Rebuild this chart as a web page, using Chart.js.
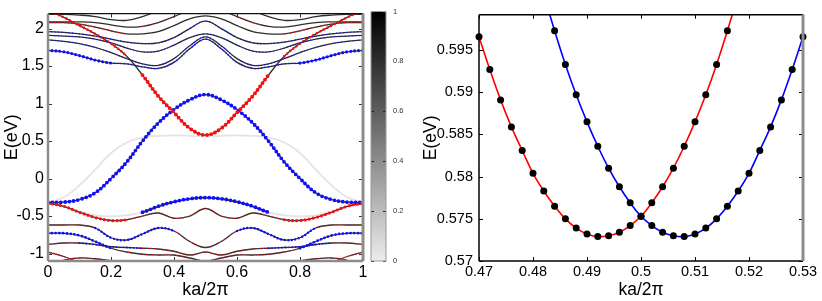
<!DOCTYPE html>
<html><head><meta charset="utf-8">
<script src="https://cdn.jsdelivr.net/npm/chart.js@4.4.1/dist/chart.umd.min.js"></script>
<style>
html,body{margin:0;padding:0;background:#fff;}
#wrap{position:relative;width:822px;height:301px;overflow:hidden;background:#fff;}
canvas{position:absolute;top:0;}
</style></head><body>
<div id="wrap">
<canvas id="bands" style="left:0px" width="370" height="301"></canvas>
<canvas id="cbar" style="left:364px" width="56" height="301"></canvas>
<canvas id="zoom" style="left:420px" width="402" height="301"></canvas>
</div>
<script>
// ---------- left panel: band structure (E vs ka/2pi) ----------
const kValues = [0,0.05,0.1,0.15,0.2,0.25,0.3,0.35,0.4,0.45,0.5,0.55,0.6,0.65,0.7,0.75,0.8,0.85,0.9,0.95,1];
const bandMainBlue = [-0.32,-0.315,-0.28,-0.19,0.0,0.22,0.50,0.74,0.92,1.05,1.12,1.05,0.92,0.74,0.50,0.22,0.0,-0.19,-0.28,-0.315,-0.32];
const bandMainRed  = [2.24,2.15,2.04,1.93,1.80,1.63,1.38,1.10,0.88,0.67,0.58,0.67,0.88,1.10,1.38,1.63,1.80,1.93,2.04,2.15,2.24];
const bandGrayUp   = [-0.32,-0.25,-0.09,0.12,0.34,0.48,0.55,0.57,0.575,0.57,0.56,0.57,0.575,0.57,0.55,0.48,0.34,0.12,-0.09,-0.25,-0.32];
const bandBump     = [-0.33,-0.37,-0.44,-0.49,-0.505,-0.49,-0.45,-0.37,-0.31,-0.27,-0.255,-0.27,-0.31,-0.37,-0.45,-0.49,-0.505,-0.49,-0.44,-0.37,-0.33];
const bandD = [-0.33,-0.37,-0.45,-0.52,-0.56,-0.55,-0.50,-0.46,-0.53,-0.50,-0.40,-0.50,-0.53,-0.46,-0.50,-0.55,-0.56,-0.52,-0.45,-0.37,-0.33];
const bandE = [-0.62,-0.62,-0.62,-0.66,-0.79,-0.82,-0.74,-0.66,-0.70,-0.84,-0.92,-0.84,-0.70,-0.66,-0.74,-0.82,-0.79,-0.66,-0.62,-0.62,-0.62];
const bandF = [-0.73,-0.73,-0.76,-0.84,-0.93,-0.98,-1.01,-1.02,-1.02,-1.06,-1.10,-1.06,-1.02,-1.02,-1.01,-0.98,-0.93,-0.84,-0.76,-0.73,-0.73];
const bandG = [-0.88,-0.86,-0.86,-0.88,-0.91,-0.92,-0.93,-0.94,-0.97,-1.02,-0.98,-1.02,-0.97,-0.94,-0.93,-0.92,-0.91,-0.88,-0.86,-0.86,-0.88];
const bandH = [-0.98,-1.04,-1.12,-1.20,-1.25,-1.30,-1.30,-1.30,-1.30,-1.30,-1.30,-1.30,-1.30,-1.30,-1.30,-1.30,-1.25,-1.20,-1.12,-1.04,-0.98];
const bandI = [-1.20,-1.09,-1.06,-1.07,-1.10,-1.16,-1.22,-1.25,-1.25,-1.25,-1.25,-1.25,-1.25,-1.25,-1.22,-1.16,-1.10,-1.07,-1.06,-1.09,-1.20];
const bandTopA = [1.71,1.69,1.64,1.58,1.54,1.53,1.49,1.47,1.55,1.73,1.86,1.73,1.55,1.47,1.49,1.53,1.54,1.58,1.64,1.69,1.71];
const bandTopB = [1.85,1.83,1.80,1.75,1.68,1.60,1.53,1.51,1.60,1.77,1.89,1.77,1.60,1.51,1.53,1.60,1.68,1.75,1.80,1.83,1.85];
const bandTopC = [1.91,1.90,1.89,1.86,1.81,1.74,1.69,1.70,1.78,1.88,1.93,1.88,1.78,1.70,1.69,1.74,1.81,1.86,1.89,1.90,1.91];
const bandTopD = [1.96,1.95,1.93,1.90,1.86,1.82,1.80,1.81,1.88,2.00,2.10,2.00,1.88,1.81,1.80,1.82,1.86,1.90,1.93,1.95,1.96];
const bandTopE = [2.08,2.08,2.06,2.02,1.97,1.93,1.93,1.96,2.04,2.13,2.17,2.13,2.04,1.96,1.93,1.93,1.97,2.02,2.06,2.08,2.08];
const bandTopF = [2.09,2.09,2.09,2.08,2.05,2.02,2.03,2.08,2.16,2.24,2.28,2.24,2.16,2.08,2.03,2.02,2.05,2.08,2.09,2.09,2.09];
const bandTopG = [2.19,2.19,2.18,2.16,2.12,2.11,2.16,2.24,2.32,2.38,2.40,2.38,2.32,2.24,2.16,2.11,2.12,2.16,2.18,2.19,2.19];
const leftXTicks = [0,0.2,0.4,0.6,0.8,1];
const leftXTickLabels = ['0','0.2','0.4','0.6','0.8','1'];
const leftYTicks = [-1,-0.5,0,0.5,1,1.5,2];
const leftYTickLabels = ['-1','-0.5','0','0.5','1','1.5','2'];

// ---------- colour bar ----------
const cbarTicks = [0,0.2,0.4,0.6,0.8,1];
const cbarTickLabels = ['0','0.2','0.4','0.6','0.8','1'];

// ---------- right panel: zoom near ka/2pi = 0.5 ----------
const redK = [0.470,0.472,0.474,0.476,0.478,0.480,0.482,0.484,0.486,0.488,0.490,0.492,0.494,0.496,0.498,0.500,0.502,0.504,0.506,0.508,0.510,0.512,0.514,0.516,0.518];
const redE = [0.5966,0.5927,0.5891,0.5859,0.5831,0.5804,0.5783,0.5765,0.5750,0.5739,0.5732,0.5729,0.5730,0.5734,0.5742,0.5753,0.5769,0.5788,0.5810,0.5836,0.5865,0.5897,0.5933,0.5973,0.6016];
const blueK = [0.482,0.484,0.486,0.488,0.490,0.492,0.494,0.496,0.498,0.500,0.502,0.504,0.506,0.508,0.510,0.512,0.514,0.516,0.518,0.520,0.522,0.524,0.526,0.528,0.530];
const blueE = [0.6016,0.5973,0.5933,0.5897,0.5865,0.5836,0.5810,0.5788,0.5769,0.5753,0.5742,0.5734,0.5730,0.5729,0.5732,0.5739,0.5750,0.5765,0.5783,0.5804,0.5831,0.5859,0.5891,0.5927,0.5966];
const rightXTicks = [0.47,0.48,0.49,0.50,0.51,0.52,0.53];
const rightXTickLabels = ['0.47','0.48','0.49','0.5','0.51','0.52','0.53'];
const rightYTicks = [0.57,0.575,0.58,0.585,0.59,0.595];
const rightYTickLabels = ['0.57','0.575','0.58','0.585','0.59','0.595'];

Chart.defaults.font.family = "'Liberation Sans', Arial, Helvetica, sans-serif";
Chart.defaults.color = '#000';

const LIGHT = '#e4e4e4', DARK = '#2e2e2e', BLUE = '#1010ff', RED = '#ff0d0d', NONE = 'rgba(0,0,0,0)';
const ALL = [[0,1]];
function inR(x, ranges){ return ranges.some(r => x >= r[0]-1e-9 && x <= r[1]+1e-9); }
function segIn(ctx, ranges){ return inR(ctx.p0.parsed.x, ranges) && inR(ctx.p1.parsed.x, ranges); }
function pts(xs, ys){ return xs.map((x,i) => ({x:x, y:ys[i]})); }

const bandSpecs = [
  {ys: bandGrayUp, line: LIGHT, dots: []},
  {ys: bandBump, line: LIGHT, dark: [[0.3,0.7]], dots: [{c:BLUE,w:3.8,g:4.3,r:[[0.3,0.7]]}]},
  {ys: bandD, line: DARK, dots: [{c:RED,w:3.2,g:4.2,r:[[0,0.27],[0.73,1]]},{c:RED,w:1.3,g:3,r:[[0.25,0.75]]}]},
  {ys: bandE, line: DARK, dots: [{c:BLUE,w:2.4,g:3.6,r:[[0.15,0.4],[0.6,0.85]]},{c:RED,w:1.2,g:3,r:[[0,0.15],[0.4,0.6],[0.85,1]]}]},
  {ys: bandF, line: DARK, dots: [{c:BLUE,w:2.8,g:3.8,r:[[0,0.2],[0.8,1]]},{c:RED,w:1.2,g:3,r:[[0.2,0.8]]}]},
  {ys: bandG, line: DARK, dots: [{c:BLUE,w:1.8,g:3.4,r:[[0.1,0.3],[0.7,0.9]]},{c:RED,w:1.2,g:3,r:[[0,0.1],[0.3,0.7],[0.9,1]]}]},
  {ys: bandH, line: DARK, dots: [{c:RED,w:1.6,g:3,r:ALL}]},
  {ys: bandI, line: DARK, dots: [{c:RED,w:1.2,g:3,r:ALL}]},
  {ys: bandTopG, line: DARK, dots: []},
  {ys: bandTopF, line: DARK, dots: [{c:RED,w:1.1,g:3.5,r:[[0.3,0.7]]}]},
  {ys: bandTopE, line: DARK, dots: [{c:RED,w:1.6,g:3.4,r:[[0,0.25],[0.75,1]]}]},
  {ys: bandTopD, line: DARK, dots: [{c:BLUE,w:1.4,g:3.5,r:ALL}]},
  {ys: bandTopC, line: DARK, dots: [{c:BLUE,w:1.2,g:3.5,r:ALL}]},
  {ys: bandTopB, line: DARK, dots: [{c:BLUE,w:1.2,g:3.5,r:ALL}]},
  {ys: bandTopA, line: DARK, dots: [{c:BLUE,w:3.2,g:4,r:[[0,0.2],[0.8,1]]},{c:BLUE,w:1.6,g:3.4,r:[[0.2,0.8]]}]},
  {ys: bandMainRed, line: DARK, dots: [{c:RED,w:3.9,g:4.3,r:[[0.3,0.7]]},{c:RED,w:2.6,g:4,r:[[0,0.25],[0.75,1]]}]},
  {ys: bandMainBlue, line: DARK, dots: [{c:BLUE,w:3.8,g:4.3,r:ALL}]}
];

const leftDatasets = [];
bandSpecs.forEach(b => {
  const lineDs = {data: pts(kValues, b.ys), borderColor: b.line, borderWidth: b.line === LIGHT ? 1.8 : 1.3,
    pointRadius: 0, tension: 0.4, order: b.line === LIGHT ? 5 : 4};
  if (b.dark) lineDs.segment = {borderColor: ctx => segIn(ctx, b.dark) ? DARK : LIGHT};
  leftDatasets.push(lineDs);
  b.dots.forEach(d => {
    leftDatasets.push({data: pts(kValues, b.ys), borderColor: d.c, borderWidth: d.w,
      borderDash: [0, d.g], borderCapStyle: 'round', pointRadius: 0, tension: 0.4,
      order: d.w > 3 ? 1 : 2,
      segment: {borderColor: ctx => segIn(ctx, d.r) ? d.c : NONE}});
  });
});

function framePlugin(o){
  return {id: 'frame', afterDatasetsDraw(chart){
    const {ctx, chartArea: a, scales} = chart;
    ctx.save();
    ctx.strokeStyle = o.tick; ctx.lineWidth = 1;
    ctx.beginPath();
    if (!o.noX) scales.x.ticks.forEach(t => {
      const p = Math.round(scales.x.getPixelForValue(t.value)) + 0.5;
      ctx.moveTo(p, a.bottom); ctx.lineTo(p, a.bottom - o.len);
      ctx.moveTo(p, a.top); ctx.lineTo(p, a.top + o.len);
    });
    scales.y.ticks.forEach(t => {
      const p = Math.round(scales.y.getPixelForValue(t.value)) + 0.5;
      ctx.moveTo(a.left, p); ctx.lineTo(a.left + o.len, p);
      ctx.moveTo(a.right, p); ctx.lineTo(a.right - o.len, p);
    });
    ctx.stroke();
    const side = (s, x1, y1, x2, y2) => { ctx.beginPath(); ctx.strokeStyle = s.c; ctx.lineWidth = s.w; ctx.moveTo(x1,y1); ctx.lineTo(x2,y2); ctx.stroke(); };
    side(o.top, a.left, a.top, a.right, a.top);
    side(o.bottom, a.left, a.bottom, a.right, a.bottom);
    side(o.left, a.left, a.top, a.left, a.bottom);
    side(o.right, a.right, a.top, a.right, a.bottom);
    ctx.restore();
  }};
}

function setTicks(values){ return s => { s.ticks = values.map(v => ({value: v})); }; }

new Chart(document.getElementById('bands'), {
  type: 'line',
  data: {datasets: leftDatasets},
  options: {
    responsive: false, animation: false, devicePixelRatio: 1,
    layout: {padding: {top: 6, right: 7, left: 0, bottom: 0}},
    plugins: {legend: {display: false}, tooltip: {enabled: false}},
    scales: {
      x: {type: 'linear', min: 0, max: 1,
        afterBuildTicks: setTicks(leftXTicks), afterFit: s => { s.height = 40; },
        ticks: {autoSkip: false, maxRotation: 0, padding: 2, font: {size: 16}, color: '#000', callback: (v, i) => leftXTickLabels[i]},
        grid: {display: false, drawTicks: false}, border: {display: false},
        title: {display: true, text: 'ka/2π', font: {size: 18}, color: '#000', padding: {top: 0, bottom: 0}}},
      y: {type: 'linear', min: -1.1, max: 2.2,
        afterBuildTicks: setTicks(leftYTicks), afterFit: s => { s.width = 48; },
        ticks: {autoSkip: false, padding: 4, font: {size: 16}, color: '#000', callback: (v, i) => leftYTickLabels[i]},
        grid: {display: false, drawTicks: false}, border: {display: false},
        title: {display: true, text: 'E(eV)', font: {size: 18}, color: '#000', padding: {top: 1, bottom: 0}}}
    }
  },
  plugins: [framePlugin({tick: '#333', len: 4,
    top: {c: '#111', w: 1.2}, bottom: {c: '#8c8c8c', w: 2.5}, left: {c: '#8c8c8c', w: 2.5}, right: {c: '#8c8c8c', w: 3}})]
});

new Chart(document.getElementById('cbar'), {
  type: 'bar',
  data: {labels: ['w'], datasets: [{data: [[0, 1]], borderWidth: 0, barPercentage: 1, categoryPercentage: 1,
    backgroundColor: ctx => {
      const ch = ctx.chart, y = ch.scales.y;
      if (!ch.chartArea || !y) return '#888';
      const g = ch.ctx.createLinearGradient(0, y.getPixelForValue(0), 0, y.getPixelForValue(1));
      g.addColorStop(0, '#ececec'); g.addColorStop(1, '#000000');
      return g;
    }}]},
  options: {
    responsive: false, animation: false, devicePixelRatio: 1,
    layout: {padding: {top: 6, left: 7, right: 0, bottom: 40}},
    plugins: {legend: {display: false}, tooltip: {enabled: false}},
    scales: {
      x: {display: false},
      y: {position: 'right', min: 0, max: 1,
        afterBuildTicks: setTicks(cbarTicks), afterFit: s => { s.width = 34; },
        ticks: {padding: 7, font: {size: 7.5}, color: '#333', callback: (v, i) => cbarTickLabels[i]},
        grid: {display: false, drawTicks: false}, border: {display: false}}
    }
  },
  plugins: [framePlugin({tick: '#222', len: 3, noX: true,
    top: {c: '#999', w: 1}, bottom: {c: '#999', w: 1}, left: {c: '#999', w: 1}, right: {c: '#999', w: 1}})]
});

new Chart(document.getElementById('zoom'), {
  type: 'line',
  data: {datasets: [
    {data: pts(redK, redE), showLine: false, pointRadius: 3.5, pointBackgroundColor: '#000', pointBorderWidth: 0, clip: false, order: 0},
    {data: pts(blueK, blueE), showLine: false, pointRadius: 3.5, pointBackgroundColor: '#000', pointBorderWidth: 0, clip: false, order: 0},
    {data: pts(redK, redE), borderColor: '#ff0000', borderWidth: 1.6, pointRadius: 0, tension: 0.4, order: 1},
    {data: pts(blueK, blueE), borderColor: '#0000ff', borderWidth: 1.6, pointRadius: 0, tension: 0.4, order: 1}
  ]},
  options: {
    responsive: false, animation: false, devicePixelRatio: 1,
    layout: {padding: {top: 6, right: 19, left: 0, bottom: 0}},
    plugins: {legend: {display: false}, tooltip: {enabled: false}},
    scales: {
      x: {type: 'linear', min: 0.47, max: 0.53,
        afterBuildTicks: setTicks(rightXTicks), afterFit: s => { s.height = 40; },
        ticks: {autoSkip: false, maxRotation: 0, padding: 2, font: {size: 14.5}, color: '#000', callback: (v, i) => rightXTickLabels[i]},
        grid: {display: false, drawTicks: false}, border: {display: false},
        title: {display: true, text: 'ka/2π', font: {size: 17.5}, color: '#000', padding: {top: 0, bottom: 0}}},
      y: {type: 'linear', min: 0.57, max: 0.5992,
        afterBuildTicks: setTicks(rightYTicks), afterFit: s => { s.width = 59; },
        ticks: {autoSkip: false, padding: 6, font: {size: 14.5}, color: '#000', callback: (v, i) => rightYTickLabels[i]},
        grid: {display: false, drawTicks: false}, border: {display: false},
        title: {display: true, text: 'E(eV)', font: {size: 17.5}, color: '#000', padding: {top: 1, bottom: 0}}}
    }
  },
  plugins: [framePlugin({tick: '#000', len: 4,
    top: {c: '#000', w: 1.5}, bottom: {c: '#000', w: 1.5}, left: {c: '#000', w: 1.5}, right: {c: '#8c8c8c', w: 3}})]
});
</script>
</body></html>
